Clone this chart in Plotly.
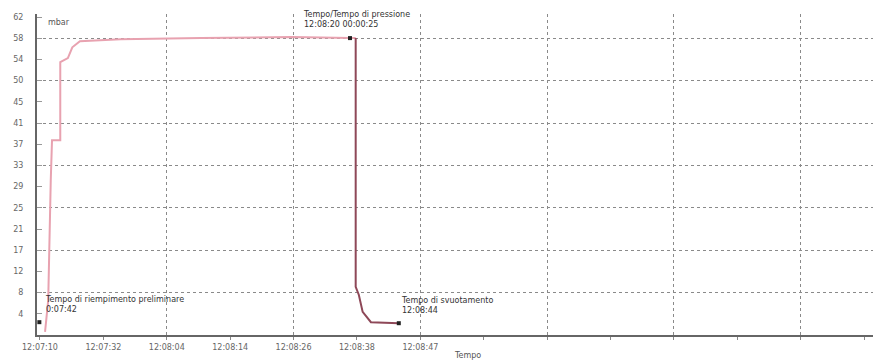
import plotly.graph_objects as go

# ---- data (x in tick-interval units from first time label, y in mbar) ----
time_labels = ["12:07:10", "12:07:32", "12:08:04", "12:08:14", "12:08:26", "12:08:38", "12:08:47"]
y_tick_labels = ["4", "8", "12", "17", "21", "25", "29", "33", "37", "41", "45", "50", "54", "58", "62"]
y_step = 62.0 / 15

fill_x = [0.08, 0.13, 0.17, 0.19, 0.32, 0.32, 0.44, 0.51, 0.63, 1.27, 2.54, 3.97, 4.89, 4.98]
fill_y = [0.6, 6.8, 30.2, 38.0, 38.0, 53.2, 54.0, 56.1, 57.3, 57.7, 57.9, 58.1, 57.9, 57.9]

drop_x = [4.98, 4.98, 5.03, 5.09, 5.22, 5.66]
drop_y = [57.9, 9.4, 7.8, 4.5, 2.5, 2.3]

mark_x = [-0.01, 4.89, 5.66]
mark_y = [2.5, 57.9, 2.3]

x_range = [-0.047, 13.14]
y_range = [0, 62.6]

y_ticks = [y_step * (i + 1) for i in range(len(y_tick_labels))]
y_grid = y_ticks[1::2]
x_ticks = list(range(len(time_labels)))
x_grid = [2, 4, 6, 8, 10, 12]

fig = go.Figure()
fig.add_trace(go.Scatter(x=fill_x, y=fill_y, mode="lines",
                         line=dict(color="#e8a2b0", width=2), hoverinfo="skip"))
fig.add_trace(go.Scatter(x=drop_x, y=drop_y, mode="lines",
                         line=dict(color="#8e4858", width=2), hoverinfo="skip"))
fig.add_trace(go.Scatter(x=mark_x, y=mark_y, mode="markers",
                         marker=dict(color="#222", size=4, symbol="square"), hoverinfo="skip"))
# invisible trace for the grid overlay axes
fig.add_trace(go.Scatter(x=[x_range[0]], y=[y_range[0]], xaxis="x2", yaxis="y2",
                         mode="markers", marker=dict(opacity=0), hoverinfo="skip"))

font = dict(family="DejaVu Sans", size=8, color="#555")

fig.update_layout(
    width=873, height=362,
    margin=dict(l=37, r=0, t=14, b=27, autoexpand=False),
    paper_bgcolor="white", plot_bgcolor="white",
    showlegend=False,
    font=font,
    xaxis=dict(range=x_range, tickvals=x_ticks, ticktext=time_labels, automargin=False,
               showgrid=False, zeroline=False, showline=True, linecolor="#666", linewidth=2,
               ticks="outside", ticklen=3, tickcolor="#888",
               minor=dict(dtick=1, ticks="outside", ticklen=3, tickcolor="#888"),
               tickfont=dict(size=8, color="#666")),
    yaxis=dict(range=y_range, tickvals=y_ticks, ticktext=y_tick_labels, automargin=False,
               showgrid=False, zeroline=False, showline=True, linecolor="#666", linewidth=2,
               ticks="inside", ticklen=5, tickcolor="#999", ticklabelstandoff=10,
               tickfont=dict(size=8, color="#666")),
    xaxis2=dict(overlaying="x", matches="x", range=x_range, tickvals=x_grid, automargin=False,
                showticklabels=False, ticks="", showgrid=True, gridcolor="#8a8a8a",
                griddash="3px,3px", gridwidth=1, zeroline=False, layer="below traces"),
    yaxis2=dict(overlaying="y", matches="y", range=y_range, tickvals=y_grid, automargin=False,
                showticklabels=False, ticks="", showgrid=True, gridcolor="#8a8a8a",
                griddash="3px,3px", gridwidth=1, zeroline=False, layer="below traces"),
)

fig.add_annotation(x=0.0, y=1.0, xref="x", yref="paper", text="mbar", showarrow=False,
                   xanchor="left", yanchor="top", xshift=6, yshift=-2,
                   font=dict(size=8, color="#555"))
fig.add_annotation(x=-0.01, y=6.0, xref="x", yref="y",
                   text="Tempo di riempimento preliminare<br>0:07:42", showarrow=False,
                   xanchor="left", yanchor="middle", align="left", xshift=4,
                   font=dict(size=8, color="#333"))
fig.add_annotation(x=4.12, y=61.5, xref="x", yref="y",
                   text="Tempo/Tempo di pressione<br>12:08:20 00:00:25",
                   showarrow=False, xanchor="left", yanchor="middle", align="left",
                   font=dict(size=8, color="#333"))
fig.add_annotation(x=5.66, y=5.8, xref="x", yref="y",
                   text="Tempo di svuotamento<br>12:08:44", showarrow=False,
                   xanchor="left", yanchor="middle", align="left",
                   font=dict(size=8, color="#333"))
fig.add_annotation(x=6.75, y=0, xref="x", yref="paper", text="Tempo", showarrow=False,
                   xanchor="center", yanchor="middle", yshift=-20,
                   font=dict(size=8, color="#555"))

fig.write_html("out.html", config={"displayModeBar": False},
               post_script="document.body.style.margin='0';document.body.style.overflow='hidden';")
